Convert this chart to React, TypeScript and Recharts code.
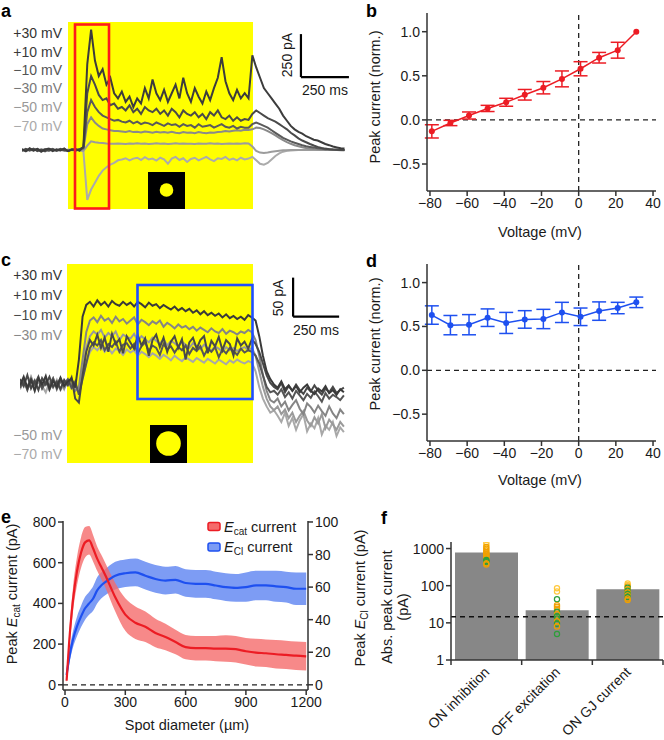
import {
  Area,
  Bar,
  ComposedChart,
  ErrorBar,
  Line,
  LineChart,
  ReferenceLine,
  Scatter,
  XAxis,
  YAxis,
} from "recharts";

const FONT = '"Liberation Sans", Arial, Helvetica, sans-serif';
const RED = "#ec1c24";
const BLUE = "#1e50f0";
const INK = "#1a1a1a";
const AXIS = "#333";

// ---- panel a: voltage-clamp traces (pA), one sample every 20 ms ----
const DT_A = 20;
const aP30 = [
  5, -8, 10, -4, 6, -10, 3, 8, -6, 4, -3, 9, -7, 2, 6, -5,
  20, 500, 700, 520, 430, 470, 380, 420, 330, 300,
  340, 280, 310, 250, 300, 270, 360, 300, 410, 330,
  290, 350, 280, 330, 380, 300, 420, 330, 280, 360,
  310, 270, 340, 290, 360, 420, 540, 400, 330, 290,
  350, 300, 330, 300,
  550, 480, 420, 360, 330, 300, 270, 240, 200, 170,
  140, 120, 105, 95, 80, 70, 60, 55, 45, 35,
  28, 20, 15, 10, 8,
];
const aP10 = [
  -5, 6, -3, 8, -6, 2, -8, 5, 3, -4, 7, -2, -6, 4, -3, 5,
  15, 330, 430, 380, 320, 290, 300, 260, 270, 240,
  250, 230, 260, 220, 240, 210, 250, 230, 220, 240,
  210, 230, 200, 240, 220, 190, 230, 210, 200, 220,
  190, 210, 180, 220, 200, 230, 190, 180, 200, 170,
  190, 170, 180, 175,
  210, 230, 215, 200, 185, 175, 165, 150, 135, 120,
  100, 85, 68, 55, 45, 35, 26, 18, 12, 8,
  5, 3, 2, 0, -2,
];
const aM10 = [
  3, -6, 4, -2, 7, -5, 2, -3, 6, -4, 1, 5, -6, 3, -2, 4,
  10, 220, 290, 250, 220, 200, 190, 180, 170, 175,
  165, 160, 170, 155, 165, 150, 160, 155, 145, 160,
  150, 140, 155, 145, 150, 135, 150, 140, 145, 130,
  150, 135, 140, 145, 130, 140, 150, 135, 130, 140,
  125, 135, 130, 130,
  150, 160, 150, 140, 130, 115, 100, 85, 70, 60,
  50, 42, 35, 28, 22, 18, 14, 10, 8, 5,
  4, 3, 2, 0, 0,
];
const aM30 = [
  -4, 3, -2, 5, -3, 1, 4, -5, 2, -1, 3, -3, 0, 2, -2, 1,
  5, 150, 190, 160, 140, 125, 120, 115, 110, 110,
  108, 105, 110, 104, 106, 102, 108, 104, 100, 106,
  102, 104, 100, 106, 100, 98, 104, 100, 102, 98,
  104, 100, 98, 102, 100, 104, 106, 110, 108, 112,
  115, 112, 118, 116,
  120, 130, 128, 120, 110, 98, 85, 70, 58, 46,
  36, 28, 22, 16, 12, 9, 6, 4, 3, 2,
  1, 0, 0, -1, 0,
];
const aM50 = [
  2, -3, 1, -2, 3, -1, 0, 2, -3, 1, -2, 3, -1, 1, -2, 0,
  -5, 25, 50, 45, 42, 40, 38, 37, 36, 38,
  37, 35, 38, 36, 39, 37, 38, 35, 37, 39,
  36, 38, 35, 37, 39, 36, 38, 36, 37, 35,
  38, 36, 37, 39, 36, 38, 35, 37, 38, 36,
  38, 37, 39, 38,
  20, -5, -15, -18, -15, -10, -7, -4, -2, -1,
  0, 0, 0, 0, 1, 0, 0, 0, 0, 0,
  0, 0, 0, 0, 0,
];
const aM70 = [
  -3, 2, -4, 1, -2, 3, -1, -3, 2, -2, 0, -4, 3, -1, -3, 2,
  -10, -290, -230, -190, -150, -120, -100, -85, -75, -60,
  -55, -48, -60, -50, -45, -58, -42, -55, -50, -62,
  -45, -55, -80, -50, -40, -58, -48, -70, -52, -45,
  -60, -50, -40, -55, -65, -48, -52, -40, -58, -50,
  -60, -45, -55, -50,
  -40, -60, -80, -85, -75, -55, -35, -20, -10, -5,
  -3, -1, 0, 0, 0, 0, 0, 0, 0, 0,
  0, 0, 0, 0, 0,
];

// ---- panel c: traces (pA), one sample every 20 ms ----
const DT_C = 20;
const cP30 = [
  -3, 8, -6, 4, -10, 6, -2, 9, -8, 3, -5, 7, -4, 2, 6, -6,
  30, 85, 100, 104, 98, 106, 100, 104, 98, 105, 101, 99, 104, 100,
  103, 98, 104, 101, 97, 103, 99, 101, 96, 100, 97, 94, 98, 93, 96, 92,
  95, 90, 93, 88, 92, 87, 90, 86, 89, 84, 88, 83, 86, 82, 85, 81, 87, 84,
  80, 60, 35, 15, 5, -2,
  -6, 2, -8, -3, -10, -4, -12, -6, -2, -10, -14, -7, -11, -4, -13, -9, -15, -8, -12,
];
const cP10 = [
  5, -4, 10, -7, 3, -9, 6, -2, 8, -5, 2, -8, 4, -3, 7, -20,
  -25, 10, 40, 55, 48, 62, 45, 58, 40, 63, 50, 56, 38, 60,
  52, 44, 61, 48, 57, 35, 55, 62, 46, 58, 40, 53, 60, 45, 56, 30,
  52, 58, 44, 55, 60, 38, 54, 47, 59, 42, 55, 50, 35, 57, 48, 53, 44, 56,
  50, 40, 25, 10, 0, -5,
  -8, 0, -12, -4, -10, -2, -9, -14, -6, -11, -3, -10, -15, -7, -12, -5, -13, -9, -6,
];
const cM10 = [
  -6, 3, -9, 5, -2, 8, -7, 1, -4, 6, -8, 3, -1, 5, -6, 2,
  -15, 5, 25, 45, 52, 48, 55, 42, 50, 46, 53, 40, 49, 51,
  44, 50, 38, 47, 52, 41, 48, 45, 36, 50, 43, 47, 39, 46, 42, 48,
  37, 45, 41, 47, 35, 44, 40, 46, 33, 43, 38, 45, 41, 36, 44, 39, 42, 40,
  35, 25, 10, -5, -12, -10,
  -15, -8, -18, -12, -20, -10, -16, -22, -14, -19, -11, -17, -24, -13, -20, -15, -18, -22, -16,
];
const cM30 = [
  -4, 6, -8, 2, -3, 7, -5, 4, -9, 3, -2, 6, -6, 1, -3, -10,
  -5, 30, 65, 80, 84, 78, 86, 80, 83, 77, 85, 79, 82, 76,
  80, 84, 75, 81, 78, 74, 79, 76, 80, 72, 77, 74, 70, 75, 71, 73,
  69, 72, 67, 71, 68, 65, 70, 66, 64, 69, 63, 67, 65, 62, 66, 64, 68, 65,
  55, 35, 10, -10, -22, -25,
  -20, -30, -24, -35, -28, -22, -33, -40, -26, -31, -38, -29, -36, -42, -30, -39, -45, -34, -40,
];
const cM50 = [
  -2, 4, -6, 8, -4, 2, -7, 5, -3, 6, -5, 2, -8, 4, -2, -6,
  -10, 15, 45, 60, 66, 62, 68, 58, 64, 60, 66, 55, 62, 59,
  57, 63, 54, 60, 56, 52, 58, 54, 50, 56, 48, 54, 51, 47, 53, 49,
  45, 51, 47, 43, 49, 45, 41, 47, 44, 40, 46, 42, 45, 41, 44, 46, 42, 45,
  35, 15, -5, -20, -30, -35,
  -30, -40, -34, -45, -38, -50, -42, -36, -48, -55, -44, -52, -40, -58, -47, -53, -60, -50, -56,
];
const cM70 = [
  -8, 2, -5, 6, -10, 3, -4, -12, 1, -6, 4, -9, -2, 3, -7, -4,
  -8, 5, 25, 40, 46, 42, 48, 40, 45, 38, 44, 41, 36, 43,
  39, 42, 35, 40, 37, 33, 38, 35, 31, 36, 33, 29, 35, 31, 28, 33,
  30, 27, 32, 29, 26, 31, 28, 25, 30, 27, 24, 29, 26, 30, 27, 25, 28, 26,
  15, -5, -20, -30, -38, -35,
  -42, -50, -38, -55, -45, -60, -48, -40, -62, -52, -58, -45, -66, -55, -60, -50, -68, -57, -63,
];

const holdLabels = ["+30 mV", "+10 mV", "\u221210 mV", "\u221230 mV", "\u221250 mV", "\u221270 mV"];

// ---- panels b, d: I-V curves ----
const ivVoltage = [-79, -69, -59, -49, -39, -29, -19, -9, 1, 11, 21, 31];
const bPeak = [-0.13, -0.035, 0.05, 0.13, 0.2, 0.285, 0.365, 0.465, 0.58, 0.705, 0.79, 1.0];
const bErr = [0.075, 0.03, 0.04, 0.035, 0.045, 0.06, 0.07, 0.09, 0.08, 0.06, 0.09, 0];
const dPeak = [0.63, 0.515, 0.52, 0.6, 0.54, 0.58, 0.585, 0.66, 0.61, 0.675, 0.71, 0.775];
const dErr = [0.105, 0.11, 0.115, 0.1, 0.12, 0.1, 0.11, 0.115, 0.1, 0.105, 0.065, 0.06];

// ---- panel e: spot-size tuning ----
const eDiam = [8, 20, 40, 60, 80, 100, 120, 140, 160, 180, 200, 250, 300, 350, 400, 450, 500, 550, 600, 650, 700, 750, 800, 850, 900, 950, 1000, 1050, 1100, 1150, 1200];
const eCat = [20, 200, 420, 560, 650, 700, 710, 670, 620, 580, 540, 430, 345, 305, 285, 255, 235, 210, 185, 180, 180, 178, 178, 175, 165, 158, 155, 150, 147, 143, 140];
const eCatSem = [15, 40, 60, 70, 75, 75, 70, 65, 60, 60, 60, 70, 80, 80, 75, 70, 65, 60, 60, 60, 60, 62, 65, 65, 65, 68, 68, 70, 70, 70, 70];
const eCl = [6, 16, 28, 36, 42, 47, 50, 53, 58, 61, 63, 67, 68.5, 69, 67, 65, 64, 64.5, 62.5, 62, 62, 61, 60, 59.5, 60, 61, 61, 60.5, 60, 59, 59];
const eClSem = [3, 4, 5, 6, 6.5, 7, 7, 7.5, 8, 8, 8, 8.5, 8.5, 8.5, 8.5, 8.5, 8.5, 8.5, 8.5, 8.5, 8.5, 8.5, 8.5, 8.5, 9, 9, 9, 9.5, 9.5, 10, 10];

// ---- panel f: absolute peak currents ----
const fCats = ["ON inhibition", "OFF excitation", "ON GJ current"];
const fMeans = [780, 22, 80];
const fCells = [
  [1400, 1250, 1100, 980, 880, 800, 740, 690, 640, 600, 560, 520, 490, 460, 430, 400, 370],
  [85, 70, 43, 30, 27, 24, 20, 17, 15, 13, 11, 9.5, 8, 5],
  [115, 105, 95, 88, 80, 73, 66, 60, 55, 50, 45, 41],
];
const fGroups = [
  [1, 1, 0, 0, 0, 0, 0, 0, 0, 0, 0, 0, 2, 2, 2, 0, 0],
  [1, 1, 2, 0, 0, 0, 2, 0, 2, 2, 0, 2, 0, 2],
  [1, 1, 0, 2, 0, 2, 0, 2, 0, 2, 0, 0],
];
const fNoise = 14.6;
const groupColors = ["#f0a000", "#ffc83c", "#2e9e3a"];

const signed = (v: number) => (v < 0 ? "\u2212" + Math.abs(v) : String(v));
const signed1 = (v: number) => (v < 0 ? "\u2212" + Math.abs(v).toFixed(1) : v.toFixed(1));

const axisLine = { stroke: AXIS, strokeWidth: 1.5 };
const tickStyle = { fill: INK, fontSize: 14 };

const TraceChart = (props: {
  left: number;
  top: number;
  width: number;
  height: number;
  dt: number;
  traces: number[][];
  colors: string[];
  xMax: number;
  yDomain: [number, number];
  barT: number;
  barV: number;
  barMs: number;
  barPa: number;
}) => {
  const series = props.traces.map((tr) => tr.map((v, i) => ({ t: i * props.dt, v })));
  return (
    <div style={{ position: "absolute", left: props.left, top: props.top }}>
      <LineChart width={props.width} height={props.height} margin={{ top: 0, right: 0, bottom: 0, left: 0 }}>
        <XAxis dataKey="t" type="number" domain={[0, props.xMax]} hide allowDataOverflow />
        <YAxis type="number" domain={props.yDomain} hide allowDataOverflow />
        {series.map((d, k) => (
          <Line
            key={k}
            data={d}
            dataKey="v"
            type="linear"
            stroke={props.colors[k]}
            strokeWidth={2}
            dot={false}
            isAnimationActive={false}
          />
        ))}
        <ReferenceLine
          segment={[
            { x: props.barT, y: props.barV },
            { x: props.barT, y: props.barV + props.barPa },
          ]}
          stroke="#000"
          strokeWidth={2.2}
        />
        <ReferenceLine
          segment={[
            { x: props.barT, y: props.barV },
            { x: props.barT + props.barMs, y: props.barV },
          ]}
          stroke="#000"
          strokeWidth={2.2}
        />
      </LineChart>
    </div>
  );
};

const IVChart = (props: { top: number; height: number; marginTop: number; marginBottom: number; peak: number[]; err: number[]; color: string }) => {
  const rows = ivVoltage.map((v, i) => ({ v, p: props.peak[i], e: props.err[i] }));
  return (
    <div style={{ position: "absolute", left: 350, top: props.top }}>
      <ComposedChart
        width={314}
        height={props.height}
        data={rows}
        margin={{ top: props.marginTop, right: 8, bottom: props.marginBottom, left: 27 }}
      >
        <XAxis
          dataKey="v"
          type="number"
          domain={[-81.6, 41.6]}
          ticks={[-80, -60, -40, -20, 0, 20, 40]}
          tickFormatter={signed}
          allowDataOverflow
          interval={0}
          height={49}
          axisLine={axisLine}
          tickLine={axisLine}
          tickSize={5}
          tick={tickStyle}
        />
        <YAxis
          type="number"
          domain={[-0.806, 1.212]}
          ticks={[-0.5, 0, 0.5, 1]}
          tickFormatter={signed1}
          allowDataOverflow
          interval={0}
          width={50}
          axisLine={axisLine}
          tickLine={axisLine}
          tickSize={5}
          tick={tickStyle}
        />
        <ReferenceLine y={0} stroke="#222" strokeWidth={1.3} strokeDasharray="5 4" />
        <ReferenceLine x={0} stroke="#222" strokeWidth={1.3} strokeDasharray="5 4" />
        <Line
          dataKey="p"
          type="linear"
          stroke={props.color}
          strokeWidth={1.5}
          dot={{ r: 3, fill: props.color, stroke: props.color, strokeWidth: 0 }}
          isAnimationActive={false}
        >
          <ErrorBar dataKey="e" direction="y" width={7} stroke={props.color} strokeWidth={1.5} />
        </Line>
      </ComposedChart>
    </div>
  );
};

const FTick = (props: any) => {
  const { x, y, payload } = props;
  const v = payload.value as number;
  if (Number.isInteger(v)) {
    return <line x1={x} y1={y} x2={x} y2={y + 5} stroke={AXIS} strokeWidth={1.5} />;
  }
  const tx = x + 4;
  const ty = y + 13;
  return (
    <text x={tx} y={ty} textAnchor="end" transform={`rotate(-45 ${tx} ${ty})`} fontSize={14} fill={INK}>
      {fCats[Math.floor(v)]}
    </text>
  );
};

const FDot = (p: any) => (
  <circle cx={p.cx} cy={p.cy} r={2.6} fill="none" stroke={groupColors[p.payload.g]} strokeWidth={1.2} />
);

export default function App() {
  const eRows = eDiam.map((d, i) => ({
    d,
    cat: eCat[i],
    catBand: [eCat[i] - eCatSem[i], eCat[i] + eCatSem[i]],
    cl: eCl[i],
    clBand: [eCl[i] - eClSem[i], eCl[i] + eClSem[i]],
  }));
  const fRows = fCats.map((name, i) => ({ x: i + 0.5, name, m: fMeans[i] }));
  const fPts = fCells.flatMap((vals, i) => vals.map((y, k) => ({ x: i + 0.5, y, g: fGroups[i][k] })));

  return (
    <div
      style={{
        position: "absolute",
        left: 0,
        top: 0,
        width: 664,
        height: 740,
        background: "#fff",
        overflow: "hidden",
        fontFamily: FONT,
        color: INK,
      }}
    >
      {/* stimulus periods */}
      <div style={{ position: "absolute", left: 68, top: 22, width: 185, height: 187, background: "#ffff00" }} />
      <div style={{ position: "absolute", left: 67, top: 264, width: 186, height: 199, background: "#ffff00" }} />

      <TraceChart
        left={22}
        top={20}
        width={330}
        height={190}
        dt={DT_A}
        traces={[aM70, aM50, aM30, aM10, aP10, aP30]}
        colors={["#ababab", "#9c9c9c", "#8a8a8a", "#5a5a5a", "#4a4a4a", "#3c3c3c"]}
        xMax={1719}
        yDomain={[-349, 756]}
        barT={1453}
        barV={424}
        barMs={250}
        barPa={250}
      />
      <TraceChart
        left={20}
        top={255}
        width={332}
        height={215}
        dt={DT_C}
        traces={[cM70, cM50, cM30, cM10, cP10, cP30]}
        colors={["#a8a8a8", "#9a9a9a", "#858585", "#555555", "#484848", "#3a3a3a"]}
        xMax={1804}
        yDomain={[-111.5, 164]}
        barT={1484}
        barV={85}
        barMs={250}
        barPa={50}
      />

      <IVChart top={0} height={240} marginTop={13} marginBottom={0} peak={bPeak} err={bErr} color={RED} />
      <IVChart top={240} height={260} marginTop={24} marginBottom={10} peak={dPeak} err={dErr} color={BLUE} />

      <div style={{ position: "absolute", left: 0, top: 500 }}>
        <ComposedChart width={380} height={240} data={eRows} margin={{ top: 21, right: 0, bottom: 20, left: 0 }}>
          <XAxis
            dataKey="d"
            type="number"
            domain={[-10, 1209]}
            ticks={[0, 300, 600, 900, 1200]}
            allowDataOverflow
            interval={0}
            height={30}
            axisLine={axisLine}
            tickLine={axisLine}
            tickSize={5}
            tick={tickStyle}
          />
          <YAxis
            yAxisId="l"
            type="number"
            domain={[-25.6, 805]}
            ticks={[0, 200, 400, 600, 800]}
            allowDataOverflow
            interval={0}
            width={63}
            axisLine={axisLine}
            tickLine={axisLine}
            tickSize={5}
            tick={tickStyle}
          />
          <YAxis
            yAxisId="r"
            orientation="right"
            type="number"
            domain={[-3.2, 100.6]}
            ticks={[0, 20, 40, 60, 80, 100]}
            allowDataOverflow
            interval={0}
            width={72}
            axisLine={axisLine}
            tickLine={axisLine}
            tickSize={5}
            tick={tickStyle}
          />
          <ReferenceLine yAxisId="l" y={0} stroke="#222" strokeWidth={1.3} strokeDasharray="5 4" />
          <Area yAxisId="r" dataKey="clBand" type="monotone" stroke="none" fill="#7d9cf4" fillOpacity={1} isAnimationActive={false} />
          <Area yAxisId="l" dataKey="catBand" type="monotone" stroke="none" fill="#f56b6b" fillOpacity={0.8} isAnimationActive={false} />
          <Line yAxisId="r" dataKey="cl" type="monotone" stroke={BLUE} strokeWidth={2.2} dot={false} isAnimationActive={false} />
          <Line yAxisId="l" dataKey="cat" type="monotone" stroke={RED} strokeWidth={2.2} dot={false} isAnimationActive={false} />
        </ComposedChart>
      </div>

      <div style={{ position: "absolute", left: 380, top: 500 }}>
        <ComposedChart width={284} height={240} data={fRows} margin={{ top: 42, right: 1, bottom: 0, left: 0 }}>
          <XAxis
            dataKey="x"
            type="number"
            domain={[0, 3]}
            ticks={[0, 0.5, 1, 1.5, 2, 2.5, 3]}
            allowDataOverflow
            interval={0}
            height={80}
            axisLine={axisLine}
            tickLine={false}
            tickSize={0}
            tickMargin={0}
            tick={<FTick />}
          />
          <YAxis
            type="number"
            scale="log"
            domain={[1, 1500]}
            ticks={[1, 10, 100, 1000]}
            allowDataOverflow
            interval={0}
            width={71}
            axisLine={axisLine}
            tickLine={axisLine}
            tickSize={5}
            tick={tickStyle}
          />
          <Bar dataKey="m" barSize={63} fill="#878787" isAnimationActive={false} />
          <ReferenceLine y={fNoise} stroke="#111" strokeWidth={1.3} strokeDasharray="5 4" />
          <Scatter data={fPts} dataKey="y" shape={FDot} isAnimationActive={false} />
        </ComposedChart>
      </div>

      {/* annotations and labels */}
      <svg
        width={664}
        height={740}
        style={{ position: "absolute", left: 0, top: 0, pointerEvents: "none", fontFamily: FONT }}
      >
        <g fontWeight="bold" fontSize={18} fill="#000">
          <text x={1} y={17}>a</text>
          <text x={366} y={17}>b</text>
          <text x={1} y={266}>c</text>
          <text x={366} y={267}>d</text>
          <text x={1} y={523}>e</text>
          <text x={381} y={524}>f</text>
        </g>

        <rect x={75} y={24.5} width={34} height={184} fill="none" stroke="#ff1a1a" strokeWidth={2.6} />
        <rect x={148} y={172} width={37} height={37} fill="#000" />
        <circle cx={166.5} cy={190} r={6.8} fill="#ffff00" />

        <rect x={137.5} y={285} width={115} height={114} fill="none" stroke="#1f4fff" strokeWidth={2.6} />
        <rect x={150} y={425} width={37} height={38} fill="#000" />
        <circle cx={168.5} cy={443.5} r={12.3} fill="#ffff00" />

        <g fontSize={14} textAnchor="end">
          {holdLabels.map((s, i) => (
            <text key={"a" + i} x={62} y={[38, 57, 75, 93, 112, 131][i]} fill={["#333", "#3a3a3a", "#555", "#777", "#999", "#aaa"][i]}>
              {s}
            </text>
          ))}
          {holdLabels.map((s, i) => (
            <text key={"c" + i} x={62} y={[280, 300, 320, 340, 440, 459][i]} fill={["#333", "#3a3a3a", "#4a4a4a", "#888", "#999", "#aaa"][i]}>
              {s}
            </text>
          ))}
        </g>

        <g fontSize={14} fill={INK}>
          <text transform="translate(287,55) rotate(-90)" textAnchor="middle" dy="0.35em">250 pA</text>
          <text x={302} y={95}>250 ms</text>
          <text transform="translate(278,298) rotate(-90)" textAnchor="middle" dy="0.35em">50 pA</text>
          <text x={293} y={335}>250 ms</text>
        </g>

        <g fontSize={14.5} fill={INK}>
          <text transform="translate(375,97) rotate(-90)" textAnchor="middle" dy="0.35em">Peak current (norm.)</text>
          <text x={540} y={237} textAnchor="middle">Voltage (mV)</text>
          <text transform="translate(375,344) rotate(-90)" textAnchor="middle" dy="0.35em">Peak current (norm.)</text>
          <text x={540} y={485} textAnchor="middle">Voltage (mV)</text>

          <text x={187} y={730} textAnchor="middle">Spot diameter (µm)</text>
          <text transform="translate(12,594) rotate(-90)" textAnchor="middle" dy="0.35em">
            Peak <tspan fontStyle="italic">E</tspan>
            <tspan fontSize={10} dy={3}>cat</tspan>
            <tspan dy={-3}> current (pA)</tspan>
          </text>
          <text transform="translate(360,598) rotate(-90)" textAnchor="middle" dy="0.35em">
            Peak <tspan fontStyle="italic">E</tspan>
            <tspan fontSize={10} dy={3}>Cl</tspan>
            <tspan dy={-3}> current (pA)</tspan>
          </text>

          <rect x={208} y={522.5} width={12} height={8} rx={2} fill="#f56b6b" stroke={RED} strokeWidth={1.5} />
          <text x={224} y={532}>
            <tspan fontStyle="italic">E</tspan>
            <tspan fontSize={10} dy={3}>cat</tspan>
            <tspan dy={-3}> current</tspan>
          </text>
          <rect x={208} y={543} width={12} height={8} rx={2} fill="#7d9cf4" stroke={BLUE} strokeWidth={1.5} />
          <text x={224} y={552}>
            <tspan fontStyle="italic">E</tspan>
            <tspan fontSize={10} dy={3}>Cl</tspan>
            <tspan dy={-3}> current</tspan>
          </text>

          <text transform="translate(387,607) rotate(-90)" textAnchor="middle" dy="0.35em">Abs. peak current</text>
          <text transform="translate(403,607) rotate(-90)" textAnchor="middle" dy="0.35em">(pA)</text>
        </g>
      </svg>
    </div>
  );
}
